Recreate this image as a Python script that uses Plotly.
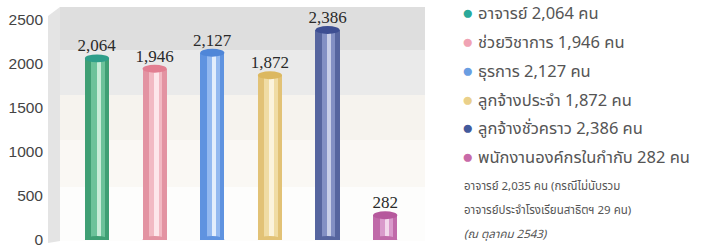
import plotly.graph_objects as go

categories = ["อาจารย์", "ช่วยวิชาการ", "ธุรการ", "ลูกจ้างประจำ", "ลูกจ้างชั่วคราว", "พนักงานองค์กรในกำกับ"]
values = [2064, 1946, 2127, 1872, 2386, 282]
value_labels = ["2,064", "1,946", "2,127", "1,872", "2,386", "282"]
legend_labels = [
    "อาจารย์ 2,064 คน",
    "ช่วยวิชาการ 1,946 คน",
    "ธุรการ 2,127 คน",
    "ลูกจ้างประจำ 1,872 คน",
    "ลูกจ้างชั่วคราว 2,386 คน",
    "พนักงานองค์กรในกำกับ 282 คน",
]
note_lines = [
    "อาจารย์ 2,035 คน (กรณีไม่นับรวม",
    "อาจารย์ประจำโรงเรียนสาธิตฯ 29 คน)",
    "<i>(ณ ตุลาคม 2543)</i>",
]
y_ticks = [0, 500, 1000, 1500, 2000, 2500]

bar_colors = ["#3f9f74", "#e393a2", "#5f93e0", "#e2c276", "#56659f", "#c06aa9"]
mid_colors = ["#6cc29a", "#f2b9c3", "#93b9f0", "#f0dca4", "#8390c4", "#d99acb"]
hi_colors = ["#c8ecd8", "#fde6ea", "#e2edfc", "#fbf3dc", "#c9cfe8", "#f3d8ec"]
cap_colors = ["#2f9e8a", "#e27f92", "#4f86d8", "#dcb860", "#3d4e92", "#b6599d"]
dot_colors = ["#2aa99a", "#f0a3b4", "#6a9ee2", "#ead08a", "#435a9c", "#c86aa8"]

FIG_W, FIG_H = 702, 249
PL, PR, PT, PB = 48, 425, 20, 240  # plot area in window pixels
PW, PH = PR - PL, PB - PT


def px(x):
    return (x - PL) / PW


def py(y):
    return 1 - (y - PT) / PH


xs = list(range(len(values)))
W = 0.42
fig = go.Figure()

fig.add_trace(go.Bar(x=xs, y=values, width=W, marker=dict(color=bar_colors, line=dict(width=0)),
                     text=value_labels, textposition="outside", cliponaxis=False, constraintext="none",
                     textfont=dict(family="Liberation Serif, serif", size=17, color="#2a2a2a"),
                     hoverinfo="skip", showlegend=False))
fig.add_trace(go.Bar(x=[x + 0.02 for x in xs], y=values, width=W * 0.55,
                     marker=dict(color=mid_colors, line=dict(width=0)), hoverinfo="skip", showlegend=False))
fig.add_trace(go.Bar(x=[x + 0.03 for x in xs], y=values, width=W * 0.18,
                     marker=dict(color=hi_colors, line=dict(width=0)), hoverinfo="skip", showlegend=False))

shapes = []
# background panel (3D-ish back wall with horizontal bands)
wall_x0 = px(60)
bands = [(py(50), py(7), "#dedede"), (py(95), py(50), "#eaeaea"), (py(140), py(95), "#f6f3ee"),
         (py(187), py(140), "#faf8f4"), (py(241), py(187), "#fdfdfc")]
for y0, y1, c in bands:
    shapes.append(dict(type="rect", xref="paper", yref="paper", x0=wall_x0, x1=1, y0=y0, y1=y1,
                       fillcolor=c, line=dict(width=0), layer="below"))
# left side wall
shapes.append(dict(type="path", xref="paper", yref="paper",
                   path=f"M 0,{py(243)} L {wall_x0},{py(241)} L {wall_x0},{py(7)} L 0,{py(16)} Z",
                   fillcolor="#e4e4e4", line=dict(width=0), layer="below"))
# cylinder caps
for x, v, c in zip(xs, values, cap_colors):
    shapes.append(dict(type="circle", xref="x", yref="y", x0=x - W / 2, x1=x + W / 2,
                       y0=v - 45, y1=v + 45, fillcolor=c, line=dict(width=0)))
    shapes.append(dict(type="circle", xref="x", yref="y", x0=x - W / 2, x1=x + W / 2,
                       y0=-45, y1=45, fillcolor=bar_colors[x], line=dict(width=0)))

annotations = []
leg_y = [14, 43, 71, 100, 128, 157]
for lbl, c, yy in zip(legend_labels, dot_colors, leg_y):
    annotations.append(dict(xref="paper", yref="paper", x=px(467), y=py(yy),
                            text="●", showarrow=False, xanchor="center", yanchor="middle",
                            font=dict(size=19, color=c)))
    annotations.append(dict(xref="paper", yref="paper", x=px(476), y=py(yy),
                            text=lbl, showarrow=False, xanchor="left", yanchor="middle",
                            font=dict(size=16.5, color="#555", family="Noto Sans Thai, Noto Sans, sans-serif")))
for t, yy in zip(note_lines, [186, 210, 234]):
    annotations.append(dict(xref="paper", yref="paper", x=px(462), y=py(yy),
                            text=t, showarrow=False, xanchor="left", yanchor="middle",
                            font=dict(size=11.5, color="#555", family="Noto Sans Thai, Noto Sans, sans-serif")))

fig.update_layout(
    width=FIG_W, height=FIG_H,
    margin=dict(l=PL, r=FIG_W - PR, t=PT, b=FIG_H - PB),
    paper_bgcolor="white", plot_bgcolor="rgba(0,0,0,0)",
    barmode="overlay", bargap=0,
    shapes=shapes, annotations=annotations,
    xaxis=dict(range=[-0.85, 5.69], showticklabels=False, showgrid=False, zeroline=False, fixedrange=True),
    yaxis=dict(range=[0, 2500], tickvals=y_ticks, showgrid=False, zeroline=False, automargin=False,
               tickfont=dict(family="Liberation Sans, Arial, sans-serif", size=15.5, color="#444"),
               ticks="", ticklabelstandoff=4, fixedrange=True),
    font=dict(family="Noto Sans Thai, Noto Sans, sans-serif"),
)

fig.write_html("out.html", config={"displayModeBar": False, "staticPlot": True},
               post_script="document.body.style.margin='0';")
